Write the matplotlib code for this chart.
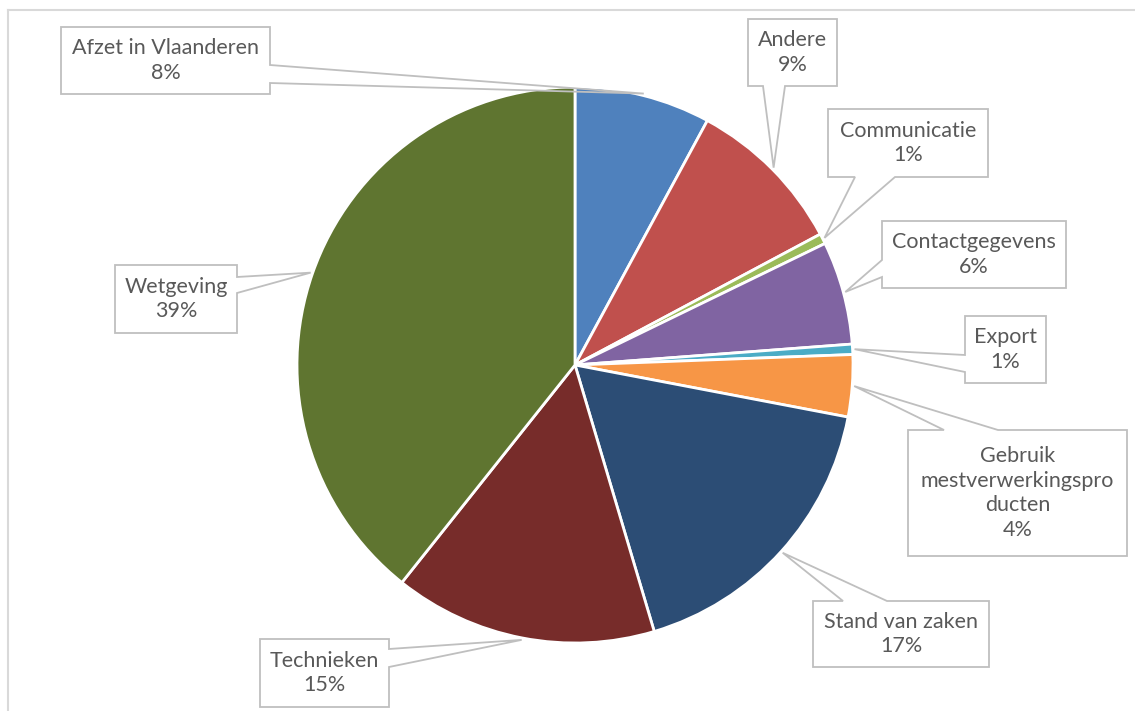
import numpy as np
import matplotlib.pyplot as plt
from matplotlib.patches import Polygon

# data (percent shares)
categories = ['Afzet in Vlaanderen', 'Andere', 'Communicatie', 'Contactgegevens',
              'Export', 'Gebruik mestverwerkingsproducten', 'Stand van zaken',
              'Technieken', 'Wetgeving']
values = [7.9, 9.3, 0.6, 6.0, 0.6, 3.6, 17.4, 15.3, 39.3]
label_texts = ['Afzet in Vlaanderen', 'Andere', 'Communicatie', 'Contactgegevens',
               'Export', 'Gebruik\nmestverwerkingspro\nducten', 'Stand van zaken',
               'Technieken', 'Wetgeving']
colors = ['#4F81BD', '#C0504D', '#9BBB59', '#8064A2', '#4BACC6',
          '#F79646', '#2C4D75', '#772C2A', '#5F7530']

# callout boxes in pixel coords: (x0, y0, x1, y1, side, base_a, base_b)
boxes = [
    (61, 27, 270, 94, 'right', 65, 83),
    (748, 19, 837, 86, 'bottom', 763, 785),
    (828, 109, 988, 177, 'bottom', 855, 895),
    (882, 221, 1066, 288, 'left', 260, 277),
    (965, 316, 1046, 383, 'left', 355, 372),
    (908, 430, 1127, 556, 'top', 944, 998),
    (813, 601, 989, 667, 'top', 843, 887),
    (260, 639, 389, 707, 'right', 649, 667),
    (115, 265, 237, 333, 'right', 277, 293),
]

W, H = 1135, 711
cx, cy, r = 575, 365, 278


def py(y):
    return H - y


fig = plt.figure(figsize=(W / 100, H / 100), dpi=100)
ax = fig.add_axes([0, 0, 1, 1])

wedges, _ = ax.pie(values, colors=colors, startangle=90, counterclock=False,
                   center=(cx, py(cy)), radius=r,
                   wedgeprops=dict(edgecolor='white', linewidth=2))

ax.set_xlim(0, W)
ax.set_ylim(0, H)
ax.set_aspect('equal')
ax.axis('off')

# chart frame (top and left edges visible)
ax.plot([8, W], [py(10), py(10)], color='#D9D9D9', lw=1.5)
ax.plot([8, 8], [py(10), 0], color='#D9D9D9', lw=1.5)

edge = '#BFBFBF'
for w, txt, v, (x0, y0, x1, y1, side, a, b) in zip(wedges, label_texts, values, boxes):
    mid = np.deg2rad((w.theta1 + w.theta2) / 2)
    tx = cx + (r + 2) * np.cos(mid)
    ty = py(cy) + (r + 2) * np.sin(mid)
    tip = (tx, ty)
    if side == 'right':
        pts = [(x0, y0), (x1, y0), (x1, a), None, (x1, b), (x1, y1), (x0, y1)]
    elif side == 'left':
        pts = [(x0, y0), (x1, y0), (x1, y1), (x0, y1), (x0, b), None, (x0, a)]
    elif side == 'top':
        pts = [(x0, y0), (a, y0), None, (b, y0), (x1, y0), (x1, y1), (x0, y1)]
    else:
        pts = [(x0, y0), (x1, y0), (x1, y1), (b, y1), None, (a, y1), (x0, y1)]
    verts = [tip if p is None else (p[0], py(p[1])) for p in pts]
    ax.add_patch(Polygon(verts, closed=True, fill=False, edgecolor=edge,
                         lw=1.3, zorder=5))
    ax.text((x0 + x1) / 2, py((y0 + y1) / 2), f'{txt}\n{round(v)}%',
            ha='center', va='center', fontsize=15.5, family='Lato',
            color='#595959', linespacing=1.3, zorder=6)

fig.savefig('out.png', dpi=100, facecolor='white')
